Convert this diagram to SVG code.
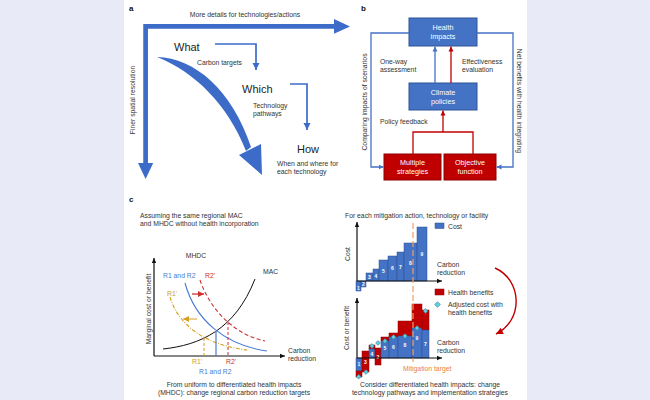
<svg xmlns="http://www.w3.org/2000/svg" width="650" height="400" viewBox="0 0 650 400">
<style>
text{font-family:"Liberation Sans",Arial,sans-serif;fill:#333}
.t{font-size:6.8px}
.big{font-size:11px;fill:#222}
.lab{font-size:8px;font-weight:bold;fill:#111}
.wt{fill:#fff;font-size:7.2px;text-anchor:middle}
.num{fill:#fff;font-size:5px;font-weight:bold;text-anchor:middle}
.mid{text-anchor:middle}
.bbox{fill:#4472c4;stroke:#2f5597;stroke-width:1}
.rbox{fill:#c00000;stroke:#8e0000;stroke-width:1}
.bl{fill:none;stroke:#4472c4;stroke-width:1.3}
.rl{fill:none;stroke:#c00000;stroke-width:1.3}
.ax{fill:none;stroke:#111;stroke-width:1.2}
.bar{fill:#4472c4;stroke:#2f528f;stroke-width:0.5}
.hb{fill:#c00000;stroke:#900000;stroke-width:0.5}
.dia{fill:#5fd0e0;stroke:#2a6f80;stroke-width:0.5}
</style>
<defs>
<marker id="mA" markerUnits="userSpaceOnUse" markerWidth="8" markerHeight="8" refX="7" refY="4" orient="auto"><path d="M0,0.5 L7,4 L0,7.5 Z" fill="#3c6cc8"/></marker>
<marker id="mB" markerUnits="userSpaceOnUse" markerWidth="6" markerHeight="6" refX="5" refY="3" orient="auto"><path d="M0,0.5 L5,3 L0,5.5 Z" fill="#4472c4"/></marker>
<marker id="mR" markerUnits="userSpaceOnUse" markerWidth="6" markerHeight="6" refX="5" refY="3" orient="auto"><path d="M0,0.5 L5,3 L0,5.5 Z" fill="#c00000"/></marker>
<marker id="mK" markerUnits="userSpaceOnUse" markerWidth="6" markerHeight="6" refX="5" refY="3" orient="auto"><path d="M0,0.8 L5,3 L0,5.2 Z" fill="#111"/></marker>
<marker id="mRc" markerUnits="userSpaceOnUse" markerWidth="7" markerHeight="7" refX="6" refY="3.5" orient="auto"><path d="M0,0.5 L6,3.5 L0,6.5 Z" fill="#d03030"/></marker>
<marker id="mY" markerUnits="userSpaceOnUse" markerWidth="7" markerHeight="7" refX="6" refY="3.5" orient="auto"><path d="M0,0.5 L6,3.5 L0,6.5 Z" fill="#d4a020"/></marker>
<marker id="mDR" markerUnits="userSpaceOnUse" markerWidth="8" markerHeight="8" refX="7" refY="4" orient="auto"><path d="M0,0.5 L7,4 L0,7.5 Z" fill="#c00000"/></marker>
</defs>
<rect x="0" y="0" width="650" height="400" fill="#e8eaf8"/>
<rect x="124" y="0" width="403" height="400" fill="#ffffff"/>

<!-- Panel a -->
<g id="panel-a">
<text class="lab" x="129" y="11">a</text>
<text class="t mid" x="245" y="17">More details for technologies/actions</text>
<path d="M336,26.4 H145.6 V165" fill="none" stroke="#3c6cc8" stroke-width="4.7"/>
<polygon points="334,19 350,26.4 334,33.8" fill="#3c6cc8"/>
<polygon points="138,163 145.6,179 153.2,163" fill="#3c6cc8"/>
<text class="t mid" transform="translate(135,100) rotate(-90)">Finer spatial resolution</text>
<g id="what"><text class="big" x="174" y="51">What</text></g>
<g id="which"><text class="big" x="242" y="93">Which</text></g>
<g id="how"><text class="big" x="297" y="153">How</text></g>
<text class="t" x="197" y="65">Carbon targets</text>
<text class="t" x="253" y="108">Technology</text>
<text class="t" x="253" y="116">pathways</text>
<text class="t" x="277" y="166">When and where for</text>
<text class="t" x="277" y="174">each technology</text>
<path d="M157,57 C195,58 232,90 251,147 L246,151 C228,105 195,72 157,57 Z" fill="#3c6cc8"/>
<polygon points="239,155 261,144 262,175" fill="#3c6cc8"/>
</g>
<g id="connectors-a">
<path d="M215,44 H256 V70" fill="none" stroke="#3c6cc8" stroke-width="1.7" marker-end="url(#mA)"/>
<path d="M290,84 H307 V130" fill="none" stroke="#3c6cc8" stroke-width="1.7" marker-end="url(#mA)"/>
</g>

<!-- Panel b -->
<text class="lab" x="361" y="11">b</text>
<g id="health-impacts"><rect class="bbox" x="409" y="18" width="68" height="28"/><text class="wt" x="443" y="30">Health</text><text class="wt" x="443" y="39">impacts</text></g>
<g id="climate-policies"><rect class="bbox" x="409" y="83" width="68" height="27"/><text class="wt" x="443" y="94.5">Climate</text><text class="wt" x="443" y="103.5">policies</text></g>
<g id="multiple-strategies"><rect class="rbox" x="384" y="154" width="57" height="26"/><text class="wt" x="412.5" y="165">Multiple</text><text class="wt" x="412.5" y="174">strategies</text></g>
<g id="objective-function"><rect class="rbox" x="444" y="154" width="52" height="26"/><text class="wt" x="470" y="165">Objective</text><text class="wt" x="470" y="174">function</text></g>
<g id="connectors-b">
<line class="bl" x1="435" y1="83" x2="435" y2="46.5" marker-end="url(#mB)"/>
<line class="rl" x1="451" y1="83" x2="451" y2="46.5" marker-end="url(#mR)"/>
<path class="rl" d="M413,154 V132 H473 V154"/>
<line class="rl" x1="443" y1="132" x2="443" y2="110.5" marker-end="url(#mR)"/>
<path class="bl" d="M409,33 H371 V167 H383.5" marker-end="url(#mB)"/>
<path class="bl" d="M477,33 H513 V167 H496.5" marker-end="url(#mB)"/>
</g>
<text class="t" x="380" y="64">One-way</text>
<text class="t" x="380" y="72">assessment</text>
<text class="t" x="462" y="64">Effectiveness</text>
<text class="t" x="462" y="72">evaluation</text>
<text class="t" x="380" y="124">Policy feedback</text>
<text class="t mid" transform="translate(367,102) rotate(-90)">Comparing impacts of scenarios</text>
<text class="t mid" transform="translate(517,101) rotate(90)">Net benefits with health integrating</text>

<!-- Panel c -->
<text class="lab" x="129" y="202">c</text>
<text class="t" x="140" y="218">Assuming the same regional MAC</text>
<text class="t" x="140" y="226">and MHDC without health incorporation</text>

<g id="left-chart">
<line class="ax" x1="154" y1="356" x2="154" y2="258" marker-end="url(#mK)"/>
<line class="ax" x1="154" y1="356" x2="285" y2="356" marker-end="url(#mK)"/>
<text class="t mid" x="196" y="258">MHDC</text>
<text class="t" x="263" y="274">MAC</text>
<text class="t mid" transform="translate(151,309) rotate(-90)">Marginal cost or benefit</text>
<text class="t" x="163" y="278" style="fill:#4a7bd0">R1 and R2</text>
<text class="t" x="205" y="278" style="fill:#d03030">R2'</text>
<text class="t" x="167" y="296" style="fill:#c8a030">R1'</text>
<text class="t" x="288" y="353">Carbon</text>
<text class="t" x="288" y="361">reduction</text>
<text class="t" x="192" y="364" style="fill:#c8a030">R1'</text>
<text class="t" x="226" y="364" style="fill:#d03030">R2'</text>
<text class="t" x="199" y="374" style="fill:#4a7bd0">R1 and R2</text>
<path d="M163,349 C200,345 235,330 255,279" fill="none" stroke="#111" stroke-width="1"/>
<path d="M185,283 C195,320 225,345 267,351" fill="none" stroke="#4a7bd0" stroke-width="1.1"/>
<path d="M200,280 C210,310 235,335 265,341" fill="none" stroke="#d03030" stroke-width="1.1" stroke-dasharray="4,2.5"/>
<path d="M170,297 C178,325 205,345 247,350" fill="none" stroke="#d4a020" stroke-width="1.1" stroke-dasharray="4,1.5,1,1.5"/>
<line x1="216" y1="331" x2="216" y2="356" stroke="#4a7bd0" stroke-width="1.2"/>
<line x1="228" y1="322" x2="228" y2="356" stroke="#d03030" stroke-width="1" stroke-dasharray="3,2"/>
<line x1="204" y1="338" x2="204" y2="356" stroke="#d4a020" stroke-width="1" stroke-dasharray="3,2"/>
<line x1="192" y1="294" x2="204" y2="294" stroke="#d03030" stroke-width="1.3" marker-end="url(#mRc)"/>
<line x1="197" y1="319" x2="183" y2="319" stroke="#d4a020" stroke-width="1" marker-end="url(#mY)"/>
</g>
<text class="t mid" x="234" y="387">From uniform to differentiated health impacts</text>
<text class="t mid" x="234" y="395">(MHDC): change regional carbon reduction targets</text>

<g id="top-chart">
<text class="t" x="345" y="218">For each mitigation action, technology or facility</text>
<rect class="bar" x="435" y="223" width="9" height="5.5"/>
<text class="t" x="448" y="228.5">Cost</text>
<text class="t mid" transform="translate(350,254) rotate(-90)">Cost</text>
<rect class="bar" x="356" y="281" width="5" height="10"/>
<rect class="bar" x="361" y="281" width="5" height="6"/>
<rect class="bar" x="366" y="273" width="7" height="8"/>
<rect class="bar" x="373" y="269" width="6" height="12"/>
<rect class="bar" x="379" y="260" width="9" height="21"/>
<rect class="bar" x="388" y="256" width="9" height="25"/>
<rect class="bar" x="397" y="252" width="7" height="29"/>
<rect class="bar" x="404" y="243" width="13" height="38"/>
<rect class="bar" x="417" y="227" width="10" height="54"/>
<text class="num" x="358.5" y="290">1</text>
<text class="num" x="363.5" y="286">2</text>
<text class="num" x="369.5" y="279">3</text>
<text class="num" x="376" y="278">4</text>
<text class="num" x="383.5" y="273">5</text>
<text class="num" x="392.5" y="270">6</text>
<text class="num" x="400.5" y="269">7</text>
<text class="num" x="410.5" y="264.5">8</text>
<text class="num" x="422" y="256">9</text>
<line class="ax" x1="357" y1="281" x2="357" y2="222" marker-end="url(#mK)"/>
<line class="ax" x1="357" y1="281" x2="442" y2="281" marker-end="url(#mK)"/>
<text class="t" x="437" y="267">Carbon</text>
<text class="t" x="437" y="275">reduction</text>
</g>

<g id="bottom-chart">
<rect class="hb" x="435" y="289" width="9" height="6"/>
<text class="t" x="448" y="295">Health benefits</text>
<rect class="dia" x="435.5" y="302.5" width="4" height="4" transform="rotate(45 437.5 304.5)"/>
<text class="t" x="448" y="307">Adjusted cost with</text>
<text class="t" x="448" y="315">health benefits</text>
<text class="t mid" transform="translate(349,328) rotate(-90)">Cost or benefit</text>
<!-- bars -->
<rect class="bar" x="356" y="358" width="6" height="13"/>
<rect class="hb" x="356" y="371" width="6" height="6"/>
<rect class="hb" x="362" y="351" width="7" height="21"/>
<rect class="hb" x="369" y="345" width="6" height="4"/>
<rect class="bar" x="369" y="349" width="6" height="9"/>
<rect class="hb" x="375" y="348" width="6" height="17"/>
<rect class="hb" x="381" y="337" width="8" height="4"/>
<rect class="bar" x="381" y="341" width="8" height="17"/>
<rect class="hb" x="389" y="333" width="9" height="4"/>
<rect class="bar" x="389" y="337" width="9" height="21"/>
<rect class="hb" x="398" y="321" width="14" height="15"/>
<rect class="bar" x="398" y="336" width="14" height="22"/>
<rect class="hb" x="412" y="304" width="10" height="24"/>
<rect class="bar" x="412" y="328" width="10" height="30"/>
<rect class="hb" x="422" y="310" width="7" height="20"/>
<rect class="bar" x="422" y="330" width="7" height="28"/>
<text class="num" x="359" y="366">1</text>
<text class="num" x="365.5" y="364">3</text>
<text class="num" x="372" y="356">4</text>
<text class="num" x="378" y="359">2</text>
<text class="num" x="385" y="350">5</text>
<text class="num" x="393.5" y="349">6</text>
<text class="num" x="405" y="347">8</text>
<text class="num" x="417" y="340">9</text>
<text class="num" x="425.5" y="346">7</text>
<line class="ax" x1="357" y1="358" x2="357" y2="298" marker-end="url(#mK)"/>
<line class="ax" x1="357" y1="358" x2="442" y2="358" marker-end="url(#mK)"/>
<g class="dia">
<rect x="357" y="375" width="3.4" height="3.4" transform="rotate(45 358.7 376.7)"/>
<rect x="364.3" y="370.3" width="3.4" height="3.4" transform="rotate(45 366 372)"/>
<rect x="370.3" y="344.3" width="3.4" height="3.4" transform="rotate(45 372 346)"/>
<rect x="376.3" y="341.3" width="3.4" height="3.4" transform="rotate(45 378 343)"/>
<rect x="383.3" y="339.3" width="3.4" height="3.4" transform="rotate(45 385 341)"/>
<rect x="391.8" y="335.3" width="3.4" height="3.4" transform="rotate(45 393.5 337)"/>
<rect x="403.3" y="334.3" width="3.4" height="3.4" transform="rotate(45 405 336)"/>
<rect x="415.3" y="326.3" width="3.4" height="3.4" transform="rotate(45 417 328)"/>
<rect x="423.8" y="309.3" width="3.4" height="3.4" transform="rotate(45 425.5 311)"/>
</g>
<text class="t" x="437" y="345">Carbon</text>
<text class="t" x="437" y="353">reduction</text>
</g>
<line x1="413" y1="223" x2="413" y2="362" stroke="#f0a060" stroke-width="1.2" stroke-dasharray="6,3"/>
<text class="t" x="403" y="371" style="fill:#e8823a">Mitigation target</text>
<path d="M495,268 C522,280 524,320 496,334" fill="none" stroke="#c00000" stroke-width="1.4" marker-end="url(#mDR)"/>
<text class="t mid" x="430" y="387">Consider differentiated health impacts: change</text>
<text class="t mid" x="430" y="395">technology pathways and implementation strategies</text>
</svg>
